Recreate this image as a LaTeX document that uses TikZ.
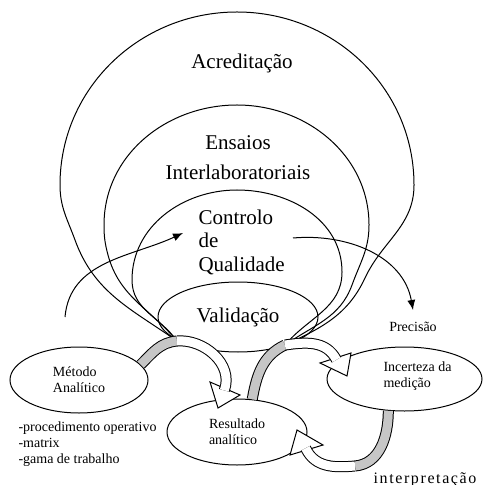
\documentclass[tikz,border=0pt]{standalone}
\usepackage{fontspec}
\setmainfont{Liberation Serif}
\usetikzlibrary{
    arrows.meta,
    positioning,
    shapes.geometric
}

\begin{document}
\begin{tikzpicture}[
    x=0.5pt, y=0.5pt,
    line width=0.5pt,
    bigtext/.style={font=\fontsize{10.5}{15}\selectfont, inner sep=0pt},
    smalltext/.style={font=\fontsize{7}{8}\selectfont},
    oval/.style={draw, ellipse, inner sep=0pt},
    thinarrow/.style={-{Latex[length=5pt, width=4pt]}},
    ribbon/.style={double=white, double distance=4.5pt},
    grayribbon/.style={double=gray!45, double distance=4.5pt},
    headtri/.style={draw, fill=white}
  ]

  \useasboundingbox (0,0) rectangle (483,-485);

  % nested shapes {{{
  \coordinate (jl) at (177,-341);
  \coordinate (jr) at (285,-345);

  \draw (jl) to[out=145,in=-70] (75,-240) to[out=110,in=-90] (60,-185)
    to[out=90,in=180] (237,-12) to[out=0,in=90] (414,-185)
    to[out=-90,in=65] (365,-278) to[out=-115,in=25] (jr);

  \draw (jl) to[out=130,in=-75] (108,-255) to[out=105,in=-90] (104,-225)
    to[out=90,in=180] (237,-105) to[out=0,in=90] (369,-225)
    to[out=-90,in=70] (352,-285) to[out=-110,in=35] (jr);

  \draw (jl) to[out=125,in=-90] (132,-280) to[out=90,in=180] (237,-190)
    to[out=0,in=90] (342,-272) to[out=-90,in=50] (jr);

  \node[bigtext] (acred) at (242,-63) {Acreditação};
  \node[bigtext, align=center] (ensaios) at (238,-158)
    {Ensaios\\Interlaboratoriais};
  \node[
    font=\fontsize{10.5}{11.75}\selectfont,
    inner sep=0pt,
    align=left,
    anchor=west
  ] (controlo) at (198,-242) {Controlo\\de\\Qualidade};
  \node[
    oval,
    bigtext,
    minimum width=80pt,
    minimum height=35pt
  ] (valid) at (238,-317) {Validação};
  % }}}

  % small ovals {{{
  \node[
    oval,
    smalltext,
    align=left,
    minimum width=69pt,
    minimum height=33pt
  ] (metodo) at (79,-380) {Método\\Analítico};
  \node[
    oval,
    smalltext,
    align=left,
    minimum width=70pt,
    minimum height=33pt
  ] (result) at (237,-432) {Resultado\\analítico};
  \node[
    oval,
    minimum width=77.5pt,
    minimum height=32pt
  ] (incert) at (404.5,-379) {};
  \node[smalltext, inner sep=0pt, align=left, anchor=west] (incerttxt)
    at (383,-376) {Incerteza da\\medição};
  % }}}

  % labels {{{
  \node[smalltext, inner sep=0pt, align=left, anchor=west] (lista)
    at (18,-444) {-procedimento operativo\\-matrix\\-gama de trabalho};
  \node[smalltext, inner sep=0pt] (precisao) at (413,-327) {Precisão};
  \node[
    font=\fontsize{8}{9}\selectfont\addfontfeature{LetterSpace=10},
    inner sep=0pt
  ] (interp) at (425,-480) {interpretação};
  % }}}

  % thin arrows {{{
  \coordinate (qstart) at (65,-317);
  \coordinate (qend) at (183,-233);
  \draw[thinarrow] (qstart) to[out=85,in=205] (qend);

  \coordinate (pstart) at (293,-238);
  \coordinate (pend) at (413,-310);
  \draw[thinarrow] (pstart) to[out=5,in=100] (pend);
  % }}}

  % ribbon arrows {{{
  \coordinate (mbase) at (225,-388.5);
  \draw[headtri] (210,-382) -- (218,-408) -- (240,-395) -- cycle;
  \draw[grayribbon] (metodo.14) to[out=45,in=185] (jl);
  \draw[ribbon, shorten >=-1pt] (jl) to[out=5,in=70] (mbase);

  \coordinate (rbase) at (335.5,-358);
  \draw[headtri] (320,-363) -- (347,-376) -- (351,-353) -- cycle;
  \draw[grayribbon] (result.65) to[out=80,in=205] (jr);
  \draw[ribbon, shorten >=-1pt] (jr) to[out=8,in=118] (rbase);

  \coordinate (jb) at (355,-466);
  \coordinate (ibase) at (306.5,-450);
  \draw[headtri] (290,-455) -- (297,-430) -- (323,-445) -- cycle;
  \draw[grayribbon] (incert.243) to[out=-90,in=5] (jb);
  \draw[ribbon, shorten >=-1pt] (jb) to[out=185,in=-65] (ibase);
  % }}}

\end{tikzpicture}
\end{document}
